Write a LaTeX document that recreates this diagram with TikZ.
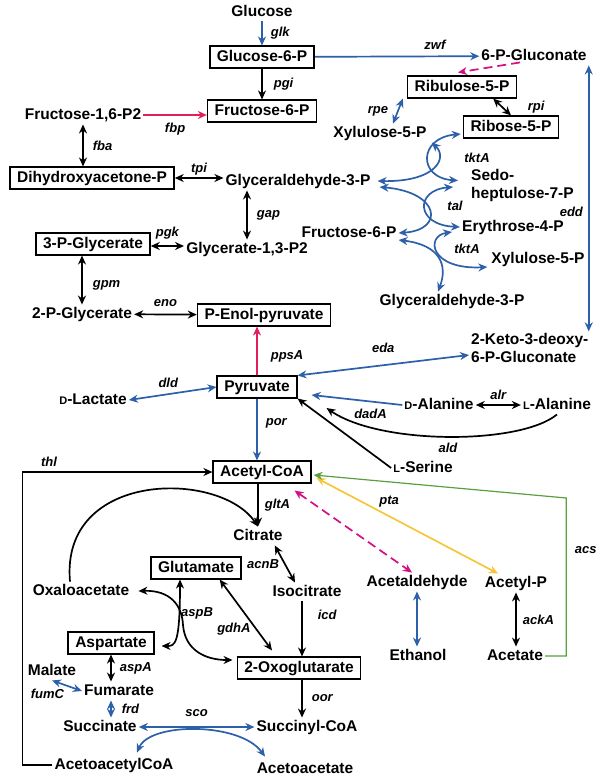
\documentclass[tikz,border=0pt]{standalone}
\usepackage{fontspec}
\setmainfont{Liberation Sans}
\usetikzlibrary{arrows.meta}

\definecolor{pwblue}{RGB}{44,96,168}
\definecolor{pwred}{RGB}{228,30,90}
\definecolor{pwpink}{RGB}{212,16,128}
\definecolor{pwyellow}{RGB}{246,198,56}
\definecolor{pwgreen}{RGB}{88,160,60}

\newcommand{\smallD}{{\fontsize{11}{11}\selectfont D}}
\newcommand{\smallL}{{\fontsize{11}{11}\selectfont L}}

\begin{document}
\begin{tikzpicture}[x=1pt, y=-1pt,
  met/.style = {font=\fontsize{15.5}{18}\selectfont\bfseries, inner sep=2pt, text height=11.5pt, text depth=3pt},
  twoline/.style = {font=\fontsize{15.5}{17.5}\selectfont\bfseries, inner sep=2pt, align=left, anchor=west},
  metbox/.style = {met, draw, line width=1.6pt, inner xsep=7pt, inner ysep=3.5pt},
  enz/.style = {font=\fontsize{13}{14}\selectfont\bfseries\itshape, text=black, inner sep=1pt},
  fwd/.style = {line width=1.7pt, -{Stealth[length=9pt,width=8pt]}},
  both/.style = {line width=1.7pt, {Stealth[length=9pt,width=8pt]}-{Stealth[length=9pt,width=8pt]}},
]
\useasboundingbox (0,0) rectangle (603,778);

% glycolysis
\node[met] (glc) at (262,12) {Glucose};
\node[metbox] (g6p) at (262,57) {Glucose-6-P};
\node[metbox] (f6p) at (262,111) {Fructose-6-P};
\node[met] (fbp2) at (83,115) {Fructose-1,6-P2};
\node[metbox] (dhap) at (92,178) {Dihydroxyacetone-P};
\node[met] (gap1) at (298,181) {Glyceraldehyde-3-P};
\node[metbox] (pg3) at (93,244) {3-P-Glycerate};
\node[met] (bpg) at (247,249) {Glycerate-1,3-P2};
\node[met] (pg2) at (82,314) {2-P-Glycerate};
\node[metbox] (pep) at (264,315) {P-Enol-pyruvate};
\node[metbox] (pyr) at (257,387) {Pyruvate};
\node[met] (lac) at (93,400) {\smallD-Lactate};

% pentose phosphate
\node[met] (gnt) at (534,56) {6-P-Gluconate};
\node[metbox] (ru5p) at (462,87) {Ribulose-5-P};
\node[metbox] (r5p) at (511,127) {Ribose-5-P};
\node[met] (xu5pa) at (380,133) {Xylulose-5-P};
\node[twoline] (s7p) at (469,185.5) {Sedo-\\heptulose-7-P};
\node[met] (f6pb) at (349,233) {Fructose-6-P};
\node[met] (e4p) at (513,227) {Erythrose-4-P};
\node[met] (xu5pb) at (538,259) {Xylulose-5-P};
\node[met] (gap2) at (452,301) {Glyceraldehyde-3-P};
\node[twoline] (kdpg) at (469,348) {2-Keto-3-deoxy-\\6-P-Gluconate};

% amino acids, TCA, acetate
\node[met] (dala) at (439,405) {\smallD-Alanine};
\node[met] (lala) at (557,405) {\smallL-Alanine};
\node[met] (lser) at (423,468) {\smallL-Serine};
\node[metbox] (accoa) at (262,472) {Acetyl-CoA};
\node[met] (cit) at (258,536) {Citrate};
\node[met] (icit) at (307,592) {Isocitrate};
\node[met] (oaa) at (81,591) {Oxaloacetate};
\node[metbox] (glu) at (196,568) {Glutamate};
\node[metbox] (asp) at (111,643) {Aspartate};
\node[metbox] (akg) at (299,668) {2-Oxoglutarate};
\node[met] (mal) at (52,671) {Malate};
\node[met] (fum) at (119,691) {Fumarate};
\node[met] (suc) at (100,727) {Succinate};
\node[met] (succoa) at (307,727) {Succinyl-CoA};
\node[met] (aacoa) at (114,765) {AcetoacetylCoA};
\node[met] (aac) at (305,769) {Acetoacetate};
\node[met] (acald) at (417,582) {Acetaldehyde};
\node[met] (acp) at (516,583) {Acetyl-P};
\node[met] (etoh) at (418,656) {Ethanol};
\node[met] (ac) at (515,656) {Acetate};

% glycolysis reactions
\draw[fwd, pwblue] (glc) -- node[enz, right=7pt] (glk) {glk} (g6p);
\draw[fwd] (g6p) -- node[enz, right=10pt] (pgi) {pgi} (f6p);
\draw[fwd, pwred] (fbp2.east) -- node[enz, below=6pt] (fbp) {fbp} (fbp2.east -| f6p.west);
\draw[both] (fbp2.south) -- node[enz, right=8pt] (fba) {fba} (fbp2.south |- dhap.north);
\draw[both] (dhap.east) -- node[enz, above=1pt] (tpi) {tpi} (dhap.east -| gap1.west);
\draw[both] (gap1.south -| bpg.north) -- node[enz, right=8pt] (gap) {gap} (bpg.north);
\draw[both] ([yshift=-2pt]pg3.east) -- node[enz, above=5pt] (pgk) {pgk} ([yshift=-2pt]pg3.east -| bpg.west);
\draw[both] (pg3.south -| pg2.north) -- node[enz, right=9pt, pos=0.6] (gpm) {gpm} (pg2.north);
\draw[both] (pg2) -- node[enz, above=6pt] (eno) {eno} (pep);
\draw[fwd, pwred] (pyr.north) -- node[enz, right=12pt, pos=0.4] (ppsA) {ppsA} (pyr.north |- pep.south);

% pentose phosphate reactions
\draw[fwd, pwblue] (g6p) -- node[enz, above=5pt, pos=0.73] (zwf) {zwf} (gnt);
\draw[fwd, pwpink, dash pattern=on 9pt off 5pt] ([shift={(-14,-3)}]gnt.south) -- ([shift={(-4,-3)}]ru5p.north);
\draw[both, pwblue] ([xshift=-4pt]ru5p.south west) -- node[enz, left=8pt] (rpe) {rpe} ([xshift=13pt]xu5pa.north);
\draw[both] ([xshift=-24pt]ru5p.south east) -- node[enz, right=24pt] (rpi) {rpi} (r5p.north);
\draw[both, pwblue] (gnt.south east) -- node[enz, left=4pt, pos=0.55] (edd) {edd} (gnt.south east |- kdpg.north);
\draw[both, pwblue] (pyr.north east) -- node[enz, above=11pt] (eda) {eda} ([yshift=-7pt]kdpg.west);
\draw[both, pwblue] ([xshift=3pt]xu5pa.south east) .. controls (448,158) and (436,182) .. ([xshift=5pt]gap1.east);
\draw[both, pwblue] ([shift={(-2,7)}]r5p.west) .. controls (418,138) and (418,178) .. ([shift={(-11,-5)}]s7p.west);
\draw[both, pwblue] ([shift={(7,6)}]gap1.east) .. controls (440,192) and (445,230) .. (f6pb.east);
\draw[both, pwblue] ([shift={(-16,1.5)}]s7p.west) .. controls (415,190) and (415,225) .. (e4p.west);
\draw[both, pwblue] ([shift={(-8,5)}]e4p.west) .. controls (425,236) and (430,270) .. ([shift={(-2,8)}]xu5pb.west);
\draw[both, pwblue] ([yshift=-7pt]f6pb.east) .. controls (440,245) and (448,265) .. ([xshift=-14pt]gap2.north);
\node[enz] (tktA1) at (477,158) {tktA};
\node[enz] (tal) at (455,206) {tal};
\node[enz] (tktA2) at (467,249) {tktA};

% pyruvate node
\draw[both, pwblue] (lac.east) -- node[enz, above=5pt, pos=0.45] (dld) {dld} (pyr.west);
\draw[fwd, pwblue] (pyr.south) -- node[enz, right=7pt, pos=0.4] (por) {por} (pyr.south |- accoa.north);
\draw[fwd, pwblue] (dala.west) -- node[enz, below=6pt, pos=0.35] (dadA) {dadA} ([shift={(14,8)}]pyr.east);
\draw[both] (dala) -- node[enz, above=4pt] (alr) {alr} (lala);
\draw[fwd] (lala.south) .. controls (520,445) and (380,445) .. node[enz, below=5pt] (ald) {ald} ([shift={(29,21)}]pyr.east);
\draw[fwd] (lser.west) -- (pyr.south east);

% TCA cycle
\draw[fwd] (accoa.south -| cit.north) -- node[enz, right=5pt] (gltA) {gltA} (cit.north);
\draw[fwd] ([xshift=-11pt]oaa.north) .. controls (60,470) and (220,470) .. (cit.north);
\draw[both] ([xshift=-10pt]cit.south east) -- node[enz, left=4pt] (acnB) {acnB} ([xshift=-12pt]icit.north);
\draw[fwd] ([xshift=-5pt]icit.south) -- node[enz, right=14pt, pos=0.25] (icd) {icd} ([xshift=-5pt]icit.south |- akg.north);
\draw[fwd] ([xshift=-5pt]succoa.north |- akg.south) -- node[enz, right=8pt] (oor) {oor} ([xshift=-5pt]succoa.north);
\draw[both] ([xshift=-22pt]glu.south east) -- node[enz, left=4pt, pos=0.7] (gdhA) {gdhA} ([shift={(-27,-6)}]akg.north);
\draw[both] ([xshift=-16pt]glu.south) .. controls (180,645) and (175,646) .. ([shift={(7,3)}]asp.east);
\draw[both] ([xshift=7pt]oaa.east) .. controls (170,590) and (182,605) .. (183,625) .. controls (185,650) and (205,660) .. ([shift={(-4,-8)}]akg.west);
\node[enz] (aspB) at (197,613) {aspB};
\draw[both] (asp.south) -- node[enz, right=7pt] (aspA) {aspA} (asp.south |- fum.north);
\draw[both, pwblue] (mal.south) -- node[enz, below left=1pt] (fumC) {fumC} (fum.west);
\draw[both, pwblue] (fum.south -| asp.south) -- node[enz, right=9pt] (frd) {frd} (asp.south |- suc.north);
\draw[both, pwblue] (suc) -- node[enz, above=9pt] (sco) {sco} (succoa);
\draw[both, pwblue] ([shift={(23,-3)}]aacoa.north) .. controls (150,722) and (240,722) .. ([shift={(-40,-3)}]aac.north);
\draw[fwd] (aacoa.west) -- ++(-30,0) |- node[enz, above=4pt, pos=0.57] (thl) {thl} (accoa.west);

% acetyl-CoA branches
\draw[both, pwpink, dash pattern=on 9pt off 5pt] ([shift={(-17,7)}]accoa.south east) -- ([xshift=-5pt]acald.north);
\draw[both, pwyellow] ([shift={(5,6)}]accoa.east) -- node[enz, above=7pt, pos=0.4] (pta) {pta} ([xshift=-18pt]acp.north);
\draw[fwd, pwgreen, line width=1.2pt] (ac.east) -- ++(21,0) -- node[enz, right=7pt, pos=0.67] (acs) {acs} ++(0,-158) -- ([shift={(2,3)}]accoa.east);
\draw[both, pwblue] (acald.south) -- (acald.south |- etoh.north);
\draw[both] (acp.south) -- node[enz, right=5pt] (ackA) {ackA} (acp.south |- ac.north);

\end{tikzpicture}
\end{document}
